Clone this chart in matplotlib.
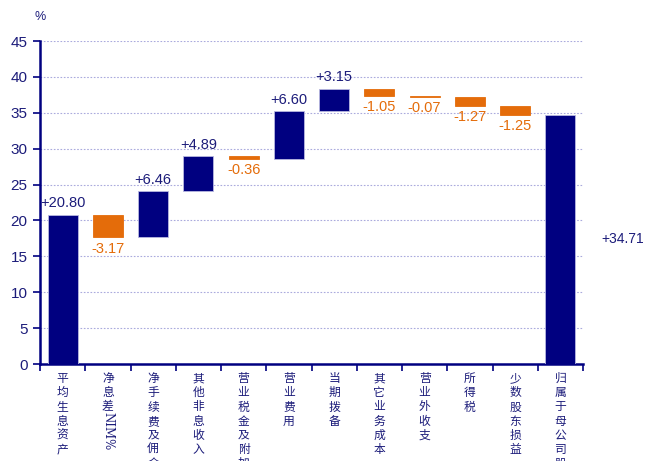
import matplotlib
matplotlib.use("Agg")
import matplotlib.pyplot as plt
import matplotlib.transforms as mtransforms
import numpy as np

plt.rcParams['font.family'] = ['Noto Sans CJK SC', 'DejaVu Sans']

categories = ["平均生息资产", "净息差NIM%", "净手续费及佣金收入", "其他非息收入", "营业税金及附加",
              "营业费用", "当期拨备", "其它业务成本", "营业外收支", "所得税", "少数股东损益",
              "归属于母公司股东净利润"]
changes = [20.80, -3.17, 6.46, 4.89, -0.36, 6.60, 3.15, -1.05, -0.07, -1.27, -1.25]
total = 34.71
yticks = [0, 5, 10, 15, 20, 25, 30, 35, 40, 45]

navy = "#000080"
orange = "#E46C0A"
textnavy = "#1C1C7A"
numfont = 'Liberation Sans'

fig = plt.figure(figsize=(6.49, 4.61), dpi=100)
ax = fig.add_axes([40/649, 1-364/461, (583-40)/649, (364-41)/461])

n = len(categories)
x = np.arange(n)
bw = 0.66
cum = 0.0
for i, v in enumerate(changes):
    if i == 0:
        bottom, height = 0, v
    else:
        bottom = cum if v > 0 else cum + v
        height = abs(v)
    color = navy if v > 0 else orange
    ax.bar(x[i], height, bottom=bottom, width=bw, color=color,
           edgecolor="#B8B8E0" if v > 0 else color, linewidth=0.6, zorder=3)
    if v > 0:
        ax.text(x[i], bottom + height + 0.6, f"+{v:.2f}", ha='center', va='bottom',
                fontsize=10.5, color=textnavy, family=numfont)
    else:
        ax.text(x[i], bottom - 0.6, f"{v:.2f}", ha='center', va='top',
                fontsize=10.5, color=orange, family=numfont)
    cum += v

ax.bar(x[-1], total, width=bw, color=navy, edgecolor="#B8B8E0", linewidth=0.6, zorder=3)
trans_lbl = mtransforms.blended_transform_factory(ax.transAxes, ax.transData)
ax.text(1.074, total / 2, f"+{total:.2f}", ha='center', va='center', fontsize=10,
        color=textnavy, family=numfont, transform=trans_lbl)

ax.set_xlim(-0.5, n - 0.5)
ax.set_ylim(0, 45)
ax.set_yticks(yticks)
ax.set_yticklabels([str(t) for t in yticks], fontsize=11, color=textnavy, family=numfont)
ax.yaxis.grid(True, linestyle=(0, (1.5, 1.5)), color="#AAAADD", linewidth=0.8, zorder=0)
ax.set_axisbelow(True)

ax.set_xticks([])
ax.set_xticks(np.arange(-0.5, n, 1.0), minor=True)
ax.tick_params(axis='x', which='minor', length=5, width=1.2, color=navy, direction='out')
ax.tick_params(axis='y', length=5, width=1.2, color=navy, direction='out', pad=4)

for s in ['top', 'right']:
    ax.spines[s].set_visible(False)
for s in ['left', 'bottom']:
    ax.spines[s].set_color(navy)
    ax.spines[s].set_linewidth(1.8)

trans = mtransforms.blended_transform_factory(ax.transData, ax.transAxes)
for i, c in enumerate(categories):
    if c == "净息差NIM%":
        ax.text(x[i], -0.025, "\n".join("净息差"), ha='center', va='top', fontsize=8.5,
                color=textnavy, linespacing=1.12, transform=trans, clip_on=False)
        ax.text(x[i], -0.025 - 40/323, "NIM%", ha='center', va='top', fontsize=8.5,
                color=textnavy, rotation=270, transform=trans, family='DejaVu Serif')
    else:
        ax.text(x[i], -0.025, "\n".join(c), ha='center', va='top', fontsize=8.5,
                color=textnavy, linespacing=1.12, transform=trans, clip_on=False)

fig.text(40/649, 1-17/461, "%", ha='center', va='center', fontsize=9, color=textnavy,
         family=numfont)

fig.savefig("out.png", dpi=100)
